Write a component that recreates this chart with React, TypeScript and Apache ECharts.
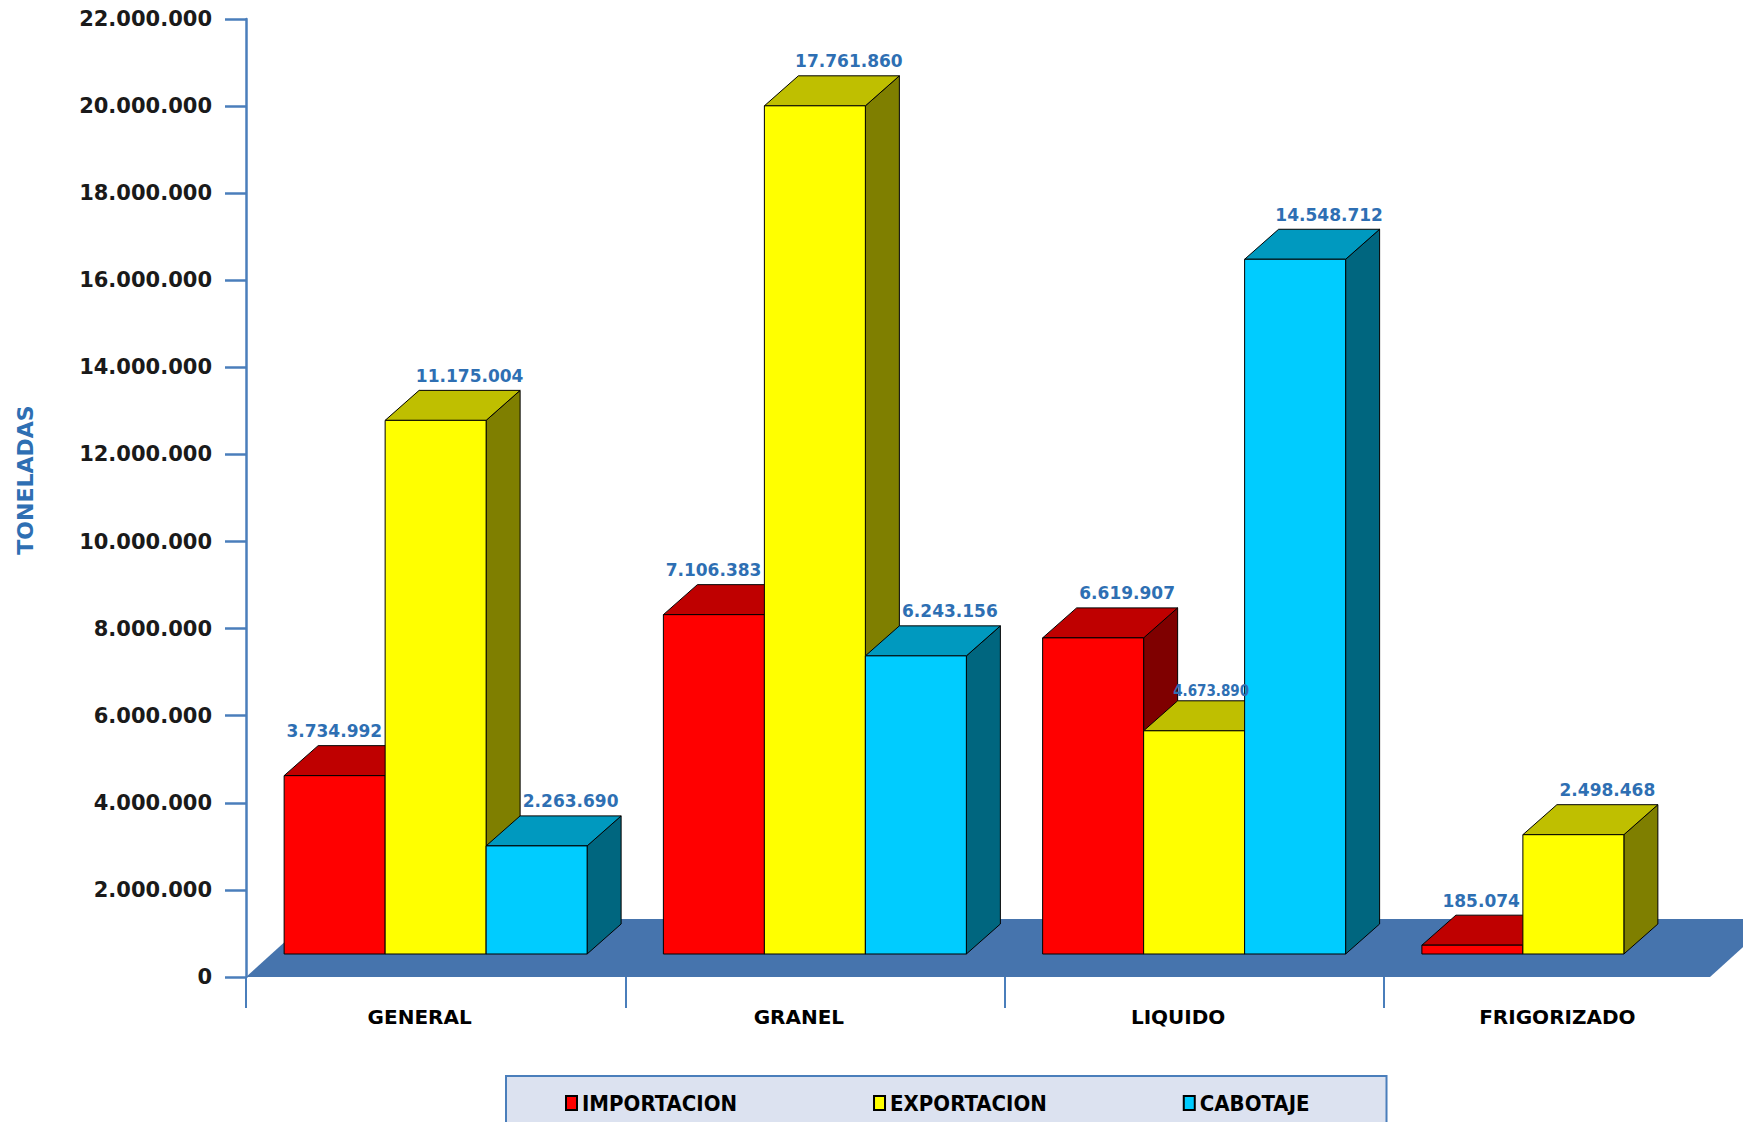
import React, { useEffect, useRef } from "react";
import * as echarts from "echarts";

// ---- data ----
const CATEGORIES = ["GENERAL", "GRANEL", "LIQUIDO", "FRIGORIZADO"];
const SERIES_NAMES = ["IMPORTACION", "EXPORTACION", "CABOTAJE"];
const IMPORTACION: (number | null)[] = [3734992, 7106383, 6619907, 185074];
const EXPORTACION: (number | null)[] = [11175004, 17761860, 4673890, 2498468];
const CABOTAJE: (number | null)[] = [2263690, 6243156, 14548712, null];
const Y_MIN = 0;
const Y_MAX = 22000000;
const Y_INTERVAL = 2000000;
const BAR_AXIS_MAX = 19580000; // perspective scale of the 3D bars

// ---- styles ----
const FRONT = ["#FF0000", "#FFFF00", "#00CCFF"];
const TOP = ["#BF0000", "#BFBF00", "#0099BF"];
const SIDE = ["#7F0000", "#7F7F00", "#00667F"];
const AXIS_BLUE = "#4A7EBB";
const LABEL_BLUE = "#2E6FB3";
const FONT = "'DejaVu Sans', Verdana, sans-serif";
const FONT_COND = "'DejaVu Sans Condensed', 'DejaVu Sans', sans-serif";
const BAR_FRAC = 0.2663;
const DX = 34;
const DY = 30;

const fmt = (n: number) =>
  Math.round(n).toString().replace(/\B(?=(\d{3})+(?!\d))/g, ".");

const ALL = [IMPORTACION, EXPORTACION, CABOTAJE];

function makeRenderItem(s: number) {
  return (params: any, api: any) => {
    const cat = api.value(0);
    const val = api.value(1);
    const base = api.coord([cat, 0]);
    const cx = base[0];
    const yBase = base[1];
    const yTop = api.coord([cat, val])[1];
    const band = api.size([1, 0])[0];
    const w = band * BAR_FRAC;
    const x0 = cx - 1.5 * w + s * w;
    const x1 = x0 + w;
    const stroke = { stroke: "#000", lineWidth: 1 };

    const next = s < 2 ? ALL[s + 1][cat] : null;
    const prev = s > 0 ? ALL[s - 1][cat] : null;
    const nextTaller = next != null && next > val;
    const prevTaller = prev != null && prev > val;
    const backTop = yTop - DY;

    const baseStyle = {
      text: fmt(val),
      fill: LABEL_BLUE,
      fontFamily: FONT,
      fontWeight: "bold",
      fontSize: 17,
      verticalAlign: "bottom",
    };
    let label: any;
    if (nextTaller && prevTaller) {
      label = {
        type: "text",
        x: (x0 + DX + x1) / 2,
        y: backTop - 2,
        z2: 100,
        style: { ...baseStyle, fontFamily: FONT_COND, fontSize: 15, align: "center" },
      };
    } else if (nextTaller) {
      label = {
        type: "text",
        x: x1 - 3,
        y: backTop - 6,
        z2: 100,
        style: { ...baseStyle, align: "right" },
      };
    } else {
      label = {
        type: "text",
        x: (x0 + x1) / 2 + DX,
        y: backTop - 6,
        z2: 100,
        style: { ...baseStyle, align: "center" },
      };
    }

    return {
      type: "group",
      children: [
        {
          type: "polygon",
          shape: {
            points: [
              [x1, yTop],
              [x1, yBase],
              [x1 + DX, yBase - DY],
              [x1 + DX, yTop - DY],
            ],
          },
          style: { fill: SIDE[s], ...stroke },
        },
        {
          type: "polygon",
          shape: {
            points: [
              [x0, yTop],
              [x1, yTop],
              [x1 + DX, yTop - DY],
              [x0 + DX, yTop - DY],
            ],
          },
          style: { fill: TOP[s], ...stroke },
        },
        {
          type: "rect",
          shape: { x: x0, y: yTop, width: w, height: yBase - yTop },
          style: { fill: FRONT[s], ...stroke },
        },
        label,
      ],
    };
  };
}

export default function App() {
  const ref = useRef<HTMLDivElement>(null);
  useEffect(() => {
    document.body.style.margin = "0";
    document.body.style.overflow = "hidden";
    const chart = echarts.init(ref.current!, undefined, { renderer: "svg" });
    const series = SERIES_NAMES.map((name, s) => ({
      type: "custom",
      name,
      xAxisIndex: 1,
      yAxisIndex: 1,
      renderItem: makeRenderItem(s),
      itemStyle: { color: FRONT[s], borderColor: "#000", borderWidth: 1 },
      encode: { x: 0, y: 1 },
      data: ALL[s]
        .map((v, i) => [i, v])
        .filter((d) => d[1] != null),
      z: 2,
    }));

    chart.setOption({
      animation: false,
      backgroundColor: "#fff",
      grid: [
        { left: 246, top: 19, width: 1464, height: 958 },
        { left: 246, top: 19, width: 1517, height: 935 },
      ],
      xAxis: [
        { type: "value", gridIndex: 0, show: false, min: 0, max: 1 },
        {
          type: "category",
          gridIndex: 1,
          data: CATEGORIES,
          offset: 23,
          axisLine: { show: false, onZero: false },
          axisTick: {
            show: true,
            length: 31,
            lineStyle: { color: AXIS_BLUE, width: 2 },
          },
          axisLabel: {
            margin: 30,
            fontFamily: FONT,
            fontWeight: "bold",
            fontSize: 20,
            color: "#000",
            padding: [0, 32, 0, 0],
          },
          splitLine: { show: false },
        },
      ],
      yAxis: [
        {
          type: "value",
          gridIndex: 0,
          min: Y_MIN,
          max: Y_MAX,
          interval: Y_INTERVAL,
          name: "TONELADAS",
          nameLocation: "middle",
          nameRotate: 90,
          nameGap: 210,
          nameTextStyle: {
            color: LABEL_BLUE,
            fontFamily: FONT,
            fontWeight: "bold",
            fontSize: 22,
            padding: [0, 0, 0, 36],
          },
          axisLine: { show: true, lineStyle: { color: AXIS_BLUE, width: 2.5 } },
          axisTick: {
            show: true,
            length: 21,
            lineStyle: { color: AXIS_BLUE, width: 2.5 },
          },
          axisLabel: {
            margin: 34,
            fontFamily: FONT,
            fontWeight: "bold",
            fontSize: 21,
            color: "#1a1a1a",
            formatter: (v: number) => fmt(v),
          },
          splitLine: { show: false },
        },
        {
          type: "value",
          gridIndex: 1,
          min: 0,
          max: BAR_AXIS_MAX,
          show: false,
          splitLine: { show: false },
        },
      ],
      legend: {
        data: SERIES_NAMES,
        left: 506,
        top: 1076,
        icon: "rect",
        itemWidth: 11,
        itemHeight: 14,
        itemGap: 136,
        backgroundColor: "#DCE2F0",
        borderColor: AXIS_BLUE,
        borderWidth: 2,
        padding: [16, 77, 40, 59],
        textStyle: {
          fontFamily: FONT_COND,
          fontWeight: "bold",
          fontSize: 22,
          color: "#000",
        },
      },
      graphic: [
        {
          type: "polygon",
          z: 0,
          silent: true,
          shape: {
            points: [
              [246, 977],
              [1710, 977],
              [1774, 919],
              [310, 919],
            ],
          },
          style: { fill: "#4674AD" },
        },
      ],
      series,
    });
    return () => chart.dispose();
  }, []);
  return (
    <div
      ref={ref}
      style={{ position: "absolute", left: 0, top: 0, width: 1800, height: 1122 }}
    />
  );
}
